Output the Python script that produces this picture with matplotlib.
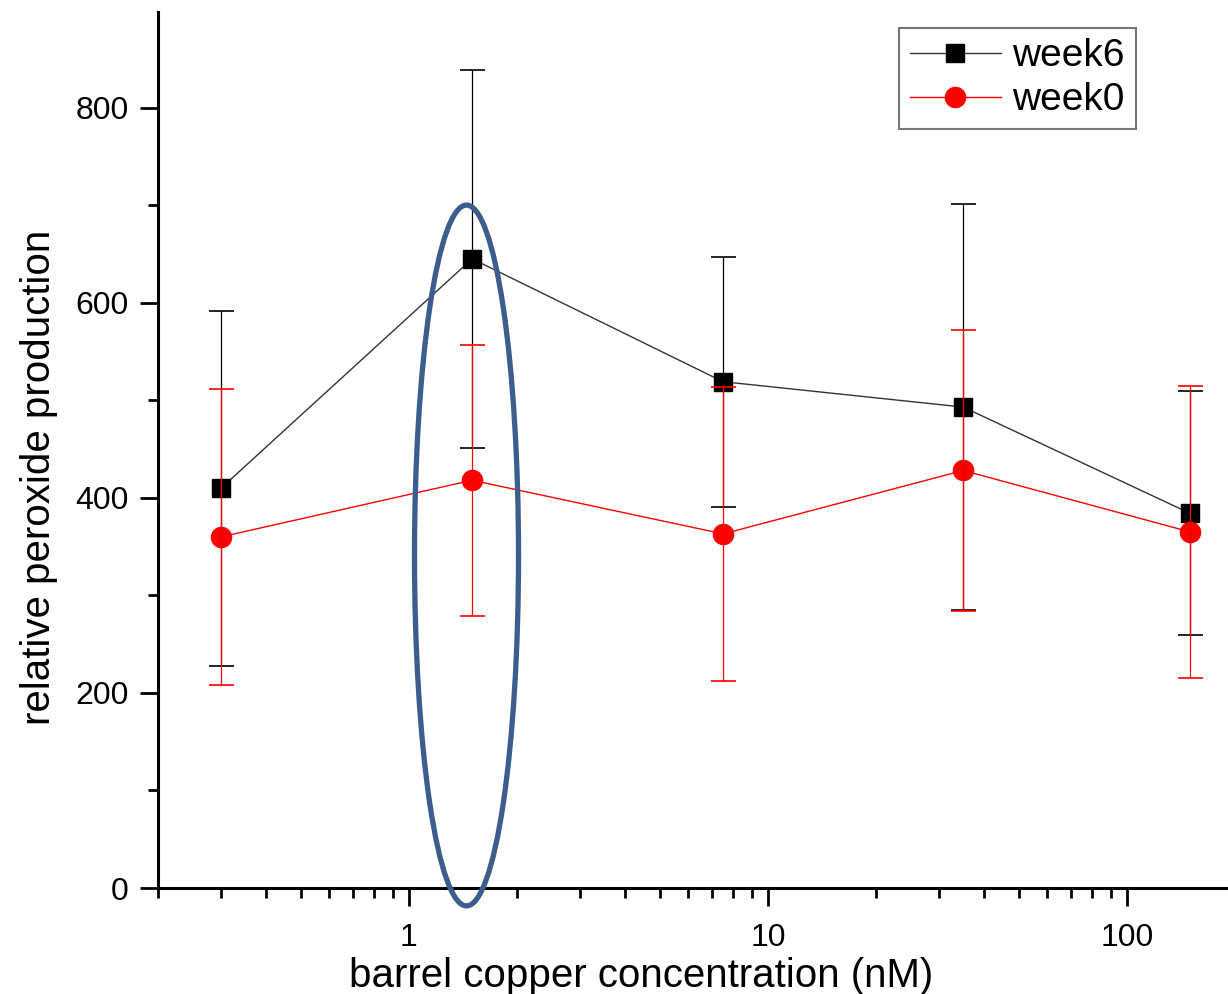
import matplotlib
matplotlib.use("Agg")
import matplotlib.pyplot as plt
from matplotlib.patches import Ellipse
from matplotlib.ticker import LogLocator, FixedLocator, MultipleLocator, FuncFormatter, NullFormatter

plt.rcParams['font.family'] = ['Liberation Sans', 'DejaVu Sans']

# Data
concentration = [0.3, 1.5, 7.5, 35, 150]
week6 = [410, 645, 519, 493, 384]
week6_err = [182, 194, 128, 208, 125]
week0 = [360, 418, 363, 428, 365]
week0_err = [152, 139, 151, 144, 150]
x_ticks = [1, 10, 100]
x_ticklabels = ['1', '10', '100']
y_ticks = [0, 200, 400, 600, 800]

fig = plt.figure(figsize=(12.28, 9.94), dpi=100)
ax = fig.add_axes([158/1228, 1-888/994, 1069/1228, 876/994])

ax.set_xscale('log')
ax.set_xlim(0.2, 190)
ax.set_ylim(0, 898)

# lines + markers
ax.plot(concentration, week6, color='#333333', lw=1.0, marker='s', ms=13,
        mfc='black', mec='black', label='week6', zorder=3)
ax.plot(concentration, week0, color='#ff0000', lw=1.0, marker='o', ms=14.5,
        mfc='#ff0000', mec='#ff0000', label='week0', zorder=3)
# error bars
ax.errorbar(concentration, week6, yerr=week6_err, fmt='none', ecolor='black',
            elinewidth=0.9, capsize=9, capthick=1.2, zorder=4)
ax.errorbar(concentration, week0, yerr=week0_err, fmt='none', ecolor='#ff0000',
            elinewidth=0.9, capsize=9, capthick=1.2, zorder=4)

# spines
for s in ['top', 'right']:
    ax.spines[s].set_visible(False)
for s in ['left', 'bottom']:
    ax.spines[s].set_linewidth(2.2)

labels_map = dict(zip(x_ticks, x_ticklabels))
ax.xaxis.set_major_locator(FixedLocator(x_ticks))
ax.xaxis.set_major_formatter(FuncFormatter(lambda v, p: labels_map.get(int(round(v)), '')))
ax.xaxis.set_minor_locator(LogLocator(base=10, subs=[2, 3, 4, 5, 6, 7, 8, 9]))
ax.xaxis.set_minor_formatter(NullFormatter())
ax.yaxis.set_major_locator(FixedLocator(y_ticks))
ax.yaxis.set_minor_locator(MultipleLocator(100))

ax.tick_params(which='major', direction='out', length=13, width=2, labelsize=23, pad=8)
ax.tick_params(which='minor', direction='out', length=7, width=2)
ax.tick_params(axis='x', which='major', pad=12)

ax.set_xlabel('barrel copper concentration (nM)', fontsize=29)
ax.set_ylabel('relative peroxide production', fontsize=29)
ax.xaxis.set_label_coords((641 - 158) / 1069, -0.079)
ax.yaxis.set_label_coords(-0.0935, (888 - 477) / 876)

leg = ax.legend(loc='upper left', bbox_to_anchor=(899/1228, 1-28/994),
                bbox_transform=fig.transFigure, fontsize=28, frameon=True,
                fancybox=False, edgecolor='#555555', handlelength=2.35,
                handletextpad=0.3, labelspacing=0.2, borderpad=0.27,
                borderaxespad=0)
leg.get_frame().set_linewidth(1.5)

# highlight ellipse
ell = Ellipse((0.2886, 0.3796), 0.0973, 0.800, transform=ax.transAxes,
              fill=False, edgecolor='#3B5E8C', lw=3.8, clip_on=False, zorder=6)
ax.add_patch(ell)

fig.savefig('out.png', dpi=100)
